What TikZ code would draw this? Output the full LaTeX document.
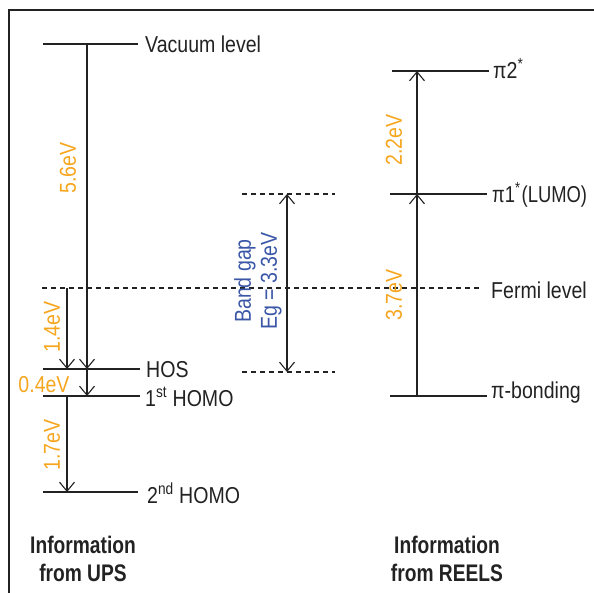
\documentclass[tikz,border=0pt]{standalone}
\usepackage{fontspec}
\setmainfont{Liberation Sans}[FakeStretch=0.85]
\newfontfamily\infofont{Liberation Sans}[FakeStretch=0.8]
\newfontfamily\narrowfont{Liberation Sans}[FakeStretch=0.8]
\usetikzlibrary{arrows.meta}
\definecolor{evorange}{HTML}{F6A61E}
\definecolor{gapblue}{HTML}{3A56A6}
\definecolor{ink}{HTML}{222222}
\begin{document}
\begin{tikzpicture}[x=1pt,y=-1pt,
  lvl/.style={draw=ink,line width=1.3pt},
  dlvl/.style={draw=ink,line width=1.1pt,dash pattern=on 5pt off 4pt},
  tip/.style={draw=ink,line width=1.1pt,-{Straight Barb[length=9pt,width=15pt,line width=1.1pt]}},
  dtip/.style={draw=ink,line width=1.1pt,{Straight Barb[length=9pt,width=15pt,line width=1.1pt]}-{Straight Barb[length=9pt,width=15pt,line width=1.1pt]}},
  lab/.style={anchor=west,inner sep=0pt,text=ink,font=\fontsize{23}{25}\selectfont},
  ev/.style={inner sep=0pt,text=evorange,font=\fontsize{23}{25}\selectfont},
  info/.style={inner sep=0pt,text=ink,align=center,font=\infofont\bfseries\fontsize{24}{28}\selectfont}]
\useasboundingbox (0,0) rectangle (594,593);
% frame
\draw[ink,line width=1.2pt] (9,593) -- (9,10) -- (594,10);
% UPS levels
\coordinate (vacL) at (43,44);   \coordinate (vacR) at (138,44);
\coordinate (hosL) at (43,369);  \coordinate (hosR) at (140,369);
\coordinate (h1L) at (43,396);   \coordinate (h1R) at (140,396);
\coordinate (h2L) at (43,492);   \coordinate (h2R) at (138,492);
\draw[lvl] (vacL) -- (vacR);
\draw[lvl] (hosL) -- (hosR);
\draw[lvl] (h1L) -- (h1R);
\draw[lvl] (h2L) -- (h2R);
\node[lab] (vac) at (145,44) {Vacuum level};
\node[lab] (hos) at (146,370) {HOS};
\node[lab] (homo1) at (145,397) {1\textsuperscript{st} HOMO};
\node[lab] (homo2) at (147,493) {2\textsuperscript{nd} HOMO};
% Fermi level
\coordinate (fL) at (42,288); \coordinate (fR) at (480,288);
\draw[dlvl] (fL) -- (fR);
\node[lab] (fermi) at (491,290) {Fermi level};
% UPS arrows
\coordinate (a56s) at (87,44);  \coordinate (a56e) at (87,369);
\coordinate (a04s) at (87,369); \coordinate (a04e) at (87,396);
\coordinate (a14s) at (67,288); \coordinate (a14e) at (67,369);
\coordinate (a17s) at (67,396); \coordinate (a17e) at (67,492);
\draw[tip] (a56s) -- (a56e);
\draw[tip] (a04s) -- (a04e);
\draw[tip] (a14s) -- (a14e);
\draw[tip] (a17s) -- (a17e);
\node[ev,rotate=90] (e56) at (68,168) {5.6eV};
\node[ev,rotate=90] (e14) at (52,327) {1.4eV};
\node[ev] (e04) at (44,385) {0.4eV};
\node[ev,rotate=90] (e17) at (52,445) {1.7eV};
% band gap
\coordinate (gtL) at (242,194); \coordinate (gtR) at (335,194);
\coordinate (gbL) at (242,372); \coordinate (gbR) at (335,372);
\draw[dlvl] (gtL) -- (gtR);
\draw[dlvl] (gbL) -- (gbR);
\coordinate (gs) at (287,194); \coordinate (ge) at (287,372);
\draw[dtip] (gs) -- (ge);
\node[rotate=90,inner sep=0pt,text=gapblue,align=center,font=\fontsize{23}{26}\selectfont] (gap) at (258,281) {Band gap\\Eg = 3.3eV};
% REELS levels
\coordinate (p2L) at (392,71);   \coordinate (p2R) at (489,71);
\coordinate (p1L) at (390,194);  \coordinate (p1R) at (487,194);
\coordinate (pbL) at (390,396);  \coordinate (pbR) at (487,396);
\draw[lvl] (p2L) -- (p2R);
\draw[lvl] (p1L) -- (p1R);
\draw[lvl] (pbL) -- (pbR);
\node[lab] (pi2) at (493,69) {π2\textsuperscript{*}};
\node[lab,font=\narrowfont\fontsize{23}{25}\selectfont] (pi1) at (492,195) {π1\textsuperscript{*}\kern1pt(LUMO)};
\node[lab] (pib) at (491,393) {π-bonding};
\coordinate (a22s) at (417,194); \coordinate (a22e) at (417,71);
\coordinate (a37s) at (417,396); \coordinate (a37e) at (417,194);
\draw[tip] (a22s) -- (a22e);
\draw[tip] (a37s) -- (a37e);
\node[ev,rotate=90] (e22) at (394,140) {2.2eV};
\node[ev,rotate=90] (e37) at (394,295) {3.7eV};
% captions
\node[info] (ups) at (83,559) {Information\\from UPS};
\node[info] (reels) at (447,559) {Information\\from REELS};
\end{tikzpicture}
\end{document}
